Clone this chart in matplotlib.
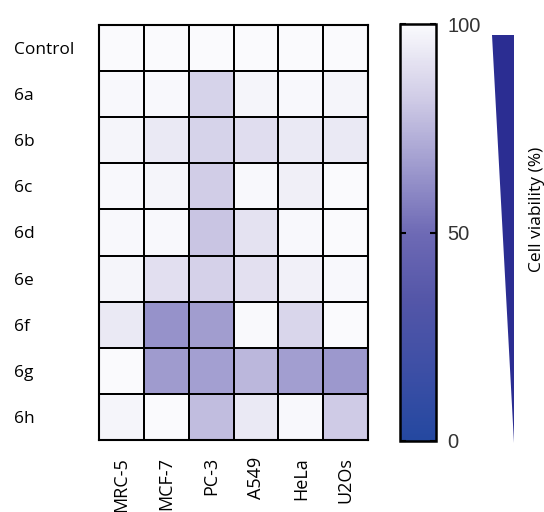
import matplotlib
matplotlib.use("Agg")
import matplotlib.pyplot as plt
import numpy as np
from matplotlib.colors import LinearSegmentedColormap
from matplotlib.patches import Polygon

rows = ["Control", "6a", "6b", "6c", "6d", "6e", "6f", "6g", "6h"]
cols = ["MRC-5", "MCF-7", "PC-3", "A549", "HeLa", "U2Os"]
viability = [
    [100, 100, 100, 100, 100, 100],
    [99, 99, 85, 98, 99, 98],
    [98, 93, 85, 89, 93, 93],
    [99, 98, 82.5, 99, 95.5, 100],
    [99, 99, 80, 91, 99, 100],
    [98, 89.5, 84, 90, 96, 99],
    [93, 63, 66.5, 99.5, 86, 100],
    [100, 66, 67.5, 75, 67, 65],
    [98, 100, 77, 93, 99, 82],
]
cbar_ticks = [0, 50, 100]
cbar_label = "Cell viability (%)"

plt.rcParams['font.family'] = ['Open Sans', 'DejaVu Sans']

cmap = LinearSegmentedColormap.from_list(
    "viab",
    [(0.0, "#2448a0"), (0.15, "#3a4ea5"), (0.34, "#5456a8"), (0.50, "#6e6ab5"),
     (0.67, "#a29ed0"), (0.82, "#cfcbe6"), (1.0, "#fafafd")])

fig = plt.figure(figsize=(5.44, 5.12), dpi=100)
ax = fig.add_axes([99/544, 1-440/512, 269/544, 415/512])
data = np.array(viability)
mesh = ax.pcolormesh(data, cmap=cmap, vmin=0, vmax=100,
                     edgecolors="black", linewidth=1.3)
ax.set_xlim(0, len(cols))
ax.set_ylim(len(rows), 0)
ax.set_xticks(np.arange(len(cols)) + 0.5)
ax.set_yticks(np.arange(len(rows)) + 0.5)
ax.set_xticklabels([])
ax.set_yticklabels(rows, fontsize=12.5)
for lab in ax.get_yticklabels():
    lab.set_horizontalalignment("left")
ax.tick_params(axis="y", length=0, pad=61)
ax.tick_params(axis="x", length=0)
for i, c in enumerate(cols):
    ax.text(i + 0.5, len(rows) + 0.37, c, rotation=90, ha="center", va="top",
            fontsize=13, clip_on=False)
for s in ax.spines.values():
    s.set_linewidth(1.5)

cax = fig.add_axes([400/544, 1-441/512, 36/544, 417/512])
cb = fig.colorbar(mesh, cax=cax, ticks=cbar_ticks)
cb.outline.set_linewidth(1.8)
cax.tick_params(axis="y", direction="in", length=4, width=1.5, labelsize=14.5,
                pad=8, right=True, left=True)
for lab in cax.get_yticklabels():
    lab.set_fontfamily(["Liberation Sans", "DejaVu Sans"])
    lab.set_color("#333333")

tri = Polygon([[492/544, 1-35/512], [514/544, 1-35/512], [514/544, 1-443/512]],
              closed=True, transform=fig.transFigure, facecolor="#2b2d92",
              edgecolor="none")
fig.patches.append(tri)
fig.text(537/544, 1-209/512, cbar_label, rotation=90, ha="center", va="center",
         fontsize=12.5)

fig.savefig("out.png", dpi=100)
